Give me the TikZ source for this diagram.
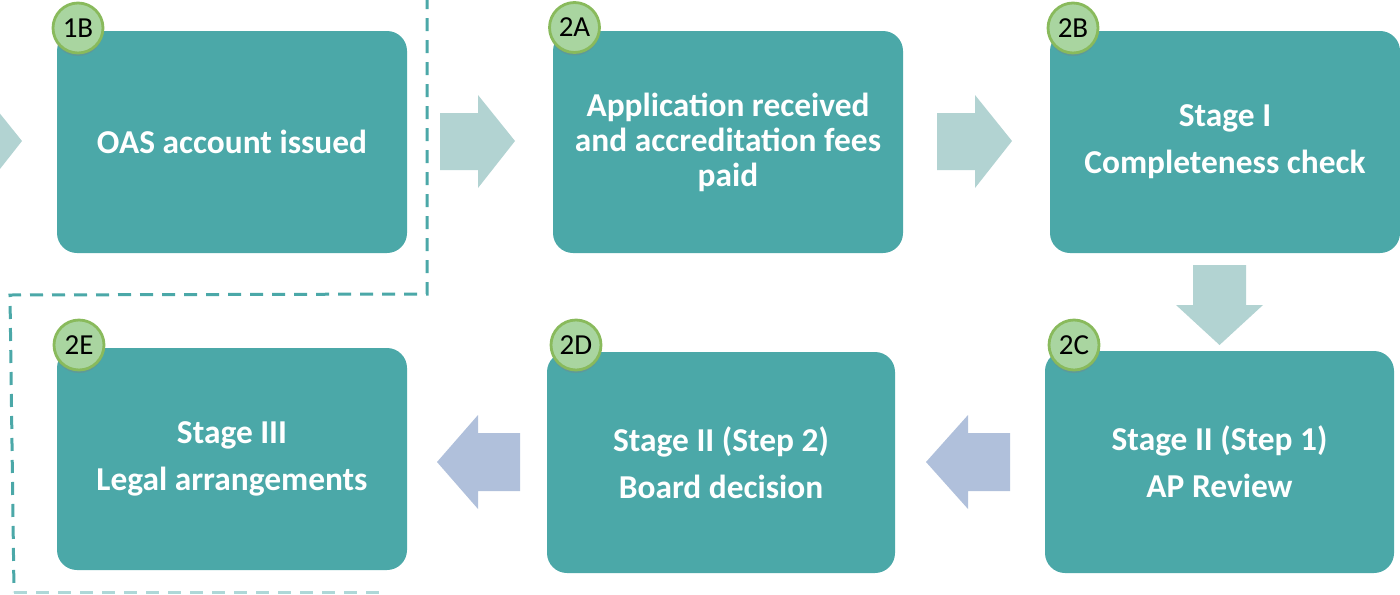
\documentclass[tikz,border=0pt]{standalone}
\usepackage{fontspec}
\setmainfont{Carlito}
\usetikzlibrary{shadows}

\definecolor{boxteal}{RGB}{75,168,168}
\definecolor{arrowteal}{RGB}{178,211,210}
\definecolor{arrowblue}{RGB}{176,192,219}
\definecolor{badgefill}{RGB}{169,213,160}
\definecolor{badgeline}{RGB}{137,186,92}

\begin{document}
\begin{tikzpicture}[x=0.5pt, y=-0.5pt]

		\tikzstyle{box}=[rectangle, rounded corners=10pt, fill=boxteal, text=white,
		minimum width=175pt, minimum height=111pt, align=center,
		font=\fontsize{16.7pt}{17.5pt}\selectfont\bfseries]
		\tikzstyle{badge}=[circle, fill=badgefill, draw=badgeline, line width=1.4pt,
		minimum size=25pt, inner sep=0pt, font=\fontsize{14.5pt}{16pt}\selectfont,
		drop shadow={shadow xshift=0pt, shadow yshift=-1.5pt, opacity=0.35}]
		\tikzstyle{rarrow}=[fill=arrowteal]
		\tikzstyle{larrow}=[fill=arrowblue]
		\tikzstyle{frame}=[draw=boxteal, line width=1.5pt, dash pattern=on 6.5pt off 4.5pt]

		\useasboundingbox (0,0) rectangle (1400,594);

		% Dashed frame
		\draw[frame] (427,-4) -- (427,294) -- (10,295) -- (14,592);
		\draw[frame, draw=boxteal!45] (14,592) -- (385,592);

		% Top row
		\node[box] (S1B) at (232,142) {OAS account issued};
		\node[box] (S2A) at (728,142) {Application received\\and accreditation fees\\paid};
		\node[box] (S2B) at (1225,142) {Stage I\\[6pt] Completeness check};

		% Bottom row
		\node[box, minimum width=174.5pt] (S2C) at (1219.5,462) {Stage II (Step 1)\\[6pt] AP Review};
		\node[box, minimum width=174pt, minimum height=110.5pt] (S2D) at (721,462.5) {Stage II (Step 2)\\[6pt] Board decision};
		\node[box] (S2E) at (232,459) {Stage III\\[6pt] Legal arrangements};

		% Badges
		\node[badge] (b1B) at (78,28) {1B};
		\node[badge] (b2A) at (574.5,27.5) {2A};
		\node[badge] (b2B) at (1073,28) {2B};
		\node[badge] (b2C) at (1074,345) {2C};
		\node[badge] (b2D) at (576,345) {2D};
		\node[badge] (b2E) at (79,345) {2E};

		% Block arrows
		\fill[rarrow] (-55,113) -- (-15,113) -- (-15,95) -- (22,141) -- (-15,188) -- (-15,170) -- (-55,170) -- cycle;
		\fill[rarrow] (440,113) -- (478,113) -- (478,95) -- (515,141) -- (478,188) -- (478,170) -- (440,170) -- cycle;
		\fill[rarrow] (937,113) -- (975,113) -- (975,95) -- (1012,141) -- (975,188) -- (975,170) -- (937,170) -- cycle;
		\fill[rarrow] (1193,265) -- (1246,265) -- (1246,305) -- (1263,305) -- (1219.5,345) -- (1176,305) -- (1193,305) -- cycle;
		\fill[larrow] (1010,433) -- (968,433) -- (968,415) -- (926,462) -- (968,509) -- (968,491) -- (1010,491) -- cycle;
		\fill[larrow] (520,433) -- (478,433) -- (478,415) -- (437,462) -- (478,509) -- (478,491) -- (520,491) -- cycle;

\end{tikzpicture}
\end{document}
